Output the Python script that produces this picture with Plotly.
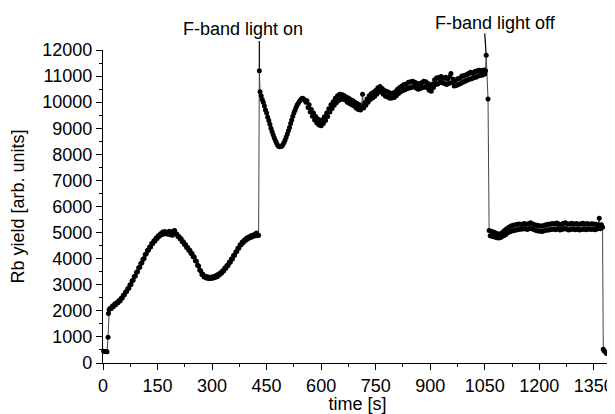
import plotly.graph_objects as go

# ---- data: (time [s], Rb yield [arb. units]) ----
seg_before = [
    (2, 450), (5, 440), (8, 445), (11, 430), (14, 990), (15, 1900),
    (17, 2050), (20, 2100), (23, 2090), (26, 2190), (29, 2170), (32, 2260),
    (35, 2230), (38, 2320), (41, 2310), (44, 2400), (47, 2380), (50, 2480),
    (53, 2490), (56, 2600), (59, 2620), (62, 2720), (65, 2740), (68, 2850),
    (71, 2870), (74, 2990), (77, 3010), (80, 3150), (83, 3170), (86, 3320),
    (89, 3340), (92, 3480), (95, 3500), (98, 3650), (101, 3670), (104, 3810),
    (107, 3840), (110, 3980), (113, 4010), (116, 4160), (119, 4180), (122, 4310),
    (125, 4320), (128, 4450), (131, 4450), (134, 4580), (137, 4580), (140, 4690),
    (143, 4680), (146, 4790), (149, 4770), (152, 4880), (155, 4860), (158, 4960),
    (161, 4920), (164, 5020), (167, 4950), (170, 5040), (173, 4960), (176, 5000),
    (179, 4940), (182, 5050), (185, 4920), (188, 5020), (191, 4900), (194, 5060),
    (197, 5080), (200, 4960), (203, 4950), (206, 4850), (209, 4850), (212, 4760),
    (215, 4760), (218, 4650), (221, 4650), (224, 4540), (227, 4540), (230, 4430),
    (233, 4430), (236, 4320), (239, 4320), (242, 4200), (245, 4200), (248, 4070),
    (251, 4060), (254, 3920), (257, 3900), (260, 3750), (263, 3720), (266, 3570),
    (269, 3530), (272, 3390), (275, 3400), (278, 3300), (281, 3330), (284, 3260),
    (287, 3310), (290, 3240), (293, 3290), (296, 3240), (299, 3300), (302, 3250),
    (305, 3320), (308, 3280), (311, 3350), (314, 3310), (317, 3400), (320, 3370),
    (323, 3460), (326, 3440), (329, 3540), (332, 3530), (335, 3640), (338, 3630),
    (341, 3740), (344, 3740), (347, 3860), (350, 3860), (353, 3990), (356, 3990),
    (359, 4120), (362, 4130), (365, 4260), (368, 4270), (371, 4400), (374, 4410),
    (377, 4530), (380, 4530), (383, 4640), (386, 4620), (389, 4720), (392, 4700),
    (395, 4790), (398, 4750), (401, 4830), (404, 4800), (407, 4880), (410, 4830),
    (413, 4910), (416, 4870), (419, 4950), (422, 4980), (425, 4880), (428, 4900),
]

seg_light_on = [
    (430, 11200), (432, 10400), (435, 10250), (438, 10100), (441, 10000), (444, 9850),
    (447, 9700), (450, 9580), (453, 9420), (456, 9300), (459, 9150), (462, 9000),
    (465, 8880), (468, 8750), (471, 8640), (474, 8530), (477, 8440), (480, 8360),
    (483, 8310), (486, 8290), (489, 8300), (492, 8320), (495, 8380), (498, 8450),
    (501, 8550), (504, 8660), (507, 8780), (510, 8900), (513, 9030), (516, 9180),
    (519, 9320), (522, 9460), (525, 9580), (528, 9690), (531, 9800), (534, 9890),
    (537, 9960), (540, 10030), (543, 10080), (546, 10130), (549, 10150), (552, 10120),
    (555, 10080), (558, 10000),
    (561, 10050), (564, 9800), (567, 9900), (570, 9620), (573, 9720), (576, 9460),
    (579, 9580), (582, 9320), (585, 9450), (588, 9200), (591, 9350), (594, 9120),
    (597, 9300), (600, 9100), (603, 9330), (606, 9180), (609, 9440), (612, 9300),
    (615, 9580), (618, 9450), (621, 9750), (624, 9620), (627, 9900), (630, 9760),
    (633, 10020), (636, 9880), (639, 10150), (642, 9980), (645, 10250), (648, 10060),
    (651, 10300), (654, 10100), (657, 10290), (660, 10120), (663, 10260), (666, 10080),
    (669, 10200), (672, 10000), (675, 10160), (678, 9950), (681, 10100), (684, 9900),
    (687, 10060), (690, 9860), (693, 10000), (696, 9780), (699, 9950), (702, 9720),
    (705, 9900), (708, 9700), (711, 9850), (714, 10300), (717, 9780), (720, 9980),
    (723, 9880), (726, 10120), (729, 10000), (732, 10250), (735, 10100), (738, 10330),
    (741, 10160), (744, 10380), (747, 10220), (750, 10450), (753, 10300), (756, 10550),
    (759, 10380), (762, 10600), (765, 10400), (768, 10520), (771, 10300), (774, 10450),
    (777, 10230), (780, 10420), (783, 10200), (786, 10380), (789, 10150), (792, 10330),
    (795, 10160), (798, 10350), (801, 10180), (804, 10400), (807, 10250), (810, 10500),
    (813, 10330), (816, 10560), (819, 10400), (822, 10620), (825, 10450), (828, 10680),
    (831, 10480), (834, 10700), (837, 10520), (840, 10760), (843, 10540), (846, 10780),
    (849, 10560), (852, 10800), (855, 10600), (858, 10760), (861, 10540), (864, 10720),
    (867, 10500), (870, 10700), (873, 10520), (876, 10740), (879, 10560), (882, 10800),
    (885, 10580), (888, 10780), (891, 10560), (894, 10720), (897, 10460), (900, 10620),
    (903, 10420), (906, 10700), (909, 10560), (912, 10860), (915, 10680), (918, 10940),
    (921, 10700), (924, 10950), (927, 10760), (930, 10980), (933, 10740), (936, 10920),
    (939, 10720), (942, 10960), (945, 10680), (948, 10900), (951, 10720), (954, 10980),
    (957, 11100), (960, 10750), (963, 10880), (966, 10620), (969, 10830), (972, 10640),
    (975, 10900), (978, 10680), (981, 10920), (984, 10720), (987, 11000), (990, 10760),
    (993, 11020), (996, 10800), (999, 11050), (1002, 10840), (1005, 11100), (1008, 10880),
    (1011, 11150), (1014, 10900), (1017, 11120), (1020, 10940), (1023, 11180), (1026, 10960),
    (1029, 11200), (1032, 11000), (1035, 11220), (1038, 11020), (1041, 11200), (1044, 11040),
    (1047, 11230), (1050, 11080), (1052, 11200), (1054, 11800), (1059, 10120),
]

seg_light_off = [
    (1062, 5080), (1065, 4880), (1068, 5050), (1071, 4850), (1074, 5020), (1077, 4830),
    (1080, 4980), (1083, 4800), (1086, 4960), (1089, 4790), (1092, 4950), (1095, 4820),
    (1098, 5000), (1101, 4870), (1104, 5080), (1107, 4920), (1110, 5150), (1113, 4980),
    (1116, 5200), (1119, 5030), (1122, 5250), (1125, 5060), (1128, 5280), (1131, 5080),
    (1134, 5300), (1137, 5100), (1140, 5320), (1143, 5120), (1146, 5330), (1149, 5130),
    (1152, 5310), (1155, 5140), (1158, 5350), (1161, 5150), (1164, 5330), (1167, 5120),
    (1170, 5340), (1173, 5160), (1176, 5380), (1179, 5150), (1182, 5330), (1185, 5120),
    (1188, 5300), (1191, 5080), (1194, 5280), (1197, 5060), (1200, 5260), (1203, 5050),
    (1206, 5250), (1209, 5040), (1212, 5270), (1215, 5080), (1218, 5300), (1221, 5090),
    (1224, 5320), (1227, 5100), (1230, 5330), (1233, 5120), (1236, 5350), (1239, 5130),
    (1242, 5340), (1245, 5110), (1248, 5370), (1251, 5150), (1254, 5330), (1257, 5100),
    (1260, 5310), (1263, 5120), (1266, 5360), (1269, 5160), (1272, 5380), (1275, 5130),
    (1278, 5330), (1281, 5100), (1284, 5340), (1287, 5120), (1290, 5360), (1293, 5140),
    (1296, 5330), (1299, 5110), (1302, 5350), (1305, 5130), (1308, 5320), (1311, 5100),
    (1314, 5340), (1317, 5120), (1320, 5360), (1323, 5130), (1326, 5330), (1329, 5110),
    (1332, 5350), (1335, 5140), (1338, 5320), (1341, 5120), (1344, 5340), (1347, 5130),
    (1350, 5330), (1353, 5110), (1356, 5320), (1359, 5140), (1362, 5300), (1365, 5550),
    (1368, 5150), (1371, 5300), (1374, 5200), (1376, 530), (1379, 460), (1382, 420),
    (1385, 360),
]

x_tick_vals = [0, 150, 300, 450, 600, 750, 900, 1050, 1200, 1350]
y_tick_vals = [0, 1000, 2000, 3000, 4000, 5000, 6000, 7000, 8000, 9000, 10000, 11000, 12000]

label_on = "F-band light on"
label_off = "F-band light off"

all_pts = seg_before + seg_light_on + seg_light_off
t = [p[0] for p in all_pts]
y = [p[1] for p in all_pts]

FONT = "Liberation Sans, Arial, Helvetica, sans-serif"
FS = 18

fig = go.Figure()
fig.add_trace(go.Scatter(
    x=t, y=y, mode="lines+markers",
    line=dict(color="#444444", width=1),
    marker=dict(color="black", size=5, symbol="circle"),
    cliponaxis=False, showlegend=False,
))

on_pt = seg_light_on[0]
off_pt = max(seg_light_on, key=lambda p: p[1])

# annotation text
fig.add_annotation(x=386, y=1.067, xref="x", yref="paper", text=label_on,
                   showarrow=False, font=dict(size=FS, color="black", family=FONT),
                   xanchor="center", yanchor="middle")
fig.add_annotation(x=1080, y=1.086, xref="x", yref="paper", text=label_off,
                   showarrow=False, font=dict(size=FS, color="black", family=FONT),
                   xanchor="center", yanchor="middle")

# pointer lines from labels to the data
fig.add_shape(type="line", xref="x", yref="paper",
              x0=on_pt[0], x1=on_pt[0], y0=1.029, y1=on_pt[1] / 12000,
              line=dict(color="black", width=1.2))
fig.add_shape(type="line", xref="x", yref="paper",
              x0=off_pt[0] - 4, x1=off_pt[0], y0=1.053, y1=off_pt[1] / 12000,
              line=dict(color="black", width=1.2))

axis_common = dict(
    showline=True, linecolor="black", linewidth=1.3,
    ticks="outside", ticklen=6, tickwidth=1.2, tickcolor="black",
    showgrid=False, zeroline=False, mirror=False,
    tickfont=dict(size=FS, color="black", family=FONT),
)

fig.update_xaxes(
    range=[0, 1400], tickvals=x_tick_vals, ticktext=[str(v) for v in x_tick_vals],
    minor=dict(dtick=75, tick0=0, ticks="outside", ticklen=3, tickcolor="black", tickwidth=1.2),
    title=dict(text="time [s]", font=dict(size=FS, color="black", family=FONT), standoff=8),
    **axis_common,
)
fig.update_yaxes(
    range=[0, 12000], tickvals=y_tick_vals, ticktext=[str(v) for v in y_tick_vals],
    minor=dict(dtick=500, tick0=0, ticks="outside", ticklen=3, tickcolor="black", tickwidth=1.2),
    title=dict(text="Rb yield [arb. units]", font=dict(size=FS, color="black", family=FONT), standoff=12),
    **axis_common,
)

# the page body has an 8px margin, so the figure is shifted by 8px
fig.update_layout(
    width=607, height=406,
    margin=dict(l=95, r=3, t=42, b=51, autoexpand=False),
    paper_bgcolor="white", plot_bgcolor="white",
)

fig.write_html("out.html")
